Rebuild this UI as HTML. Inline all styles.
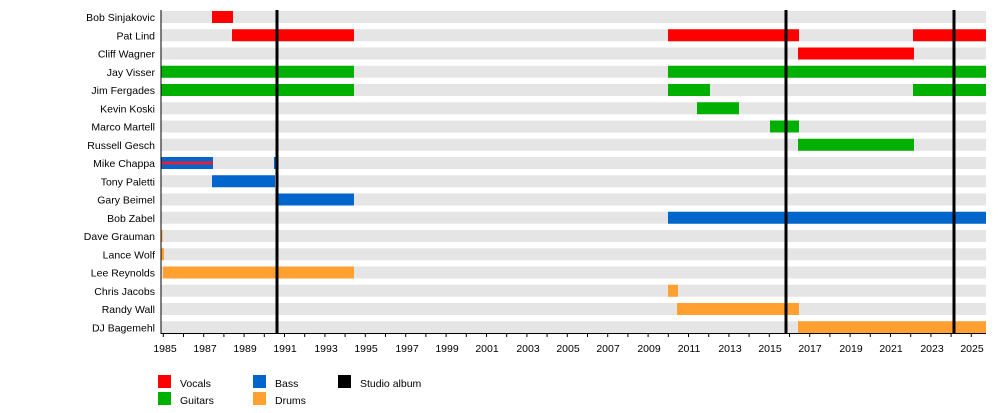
<!DOCTYPE html>
<html><head><meta charset="utf-8"><style>
body{margin:0;background:#fff;}
svg{display:block;font-family:"Liberation Sans",Arial,sans-serif;font-size:10.5px;}
</style></head><body>
<svg width="1000" height="413" viewBox="0 0 1000 413" xmlns="http://www.w3.org/2000/svg">
<g fill="#e5e5e5">
<rect x="161" y="11" width="825" height="12"/>
<rect x="161" y="29.25" width="825" height="12"/>
<rect x="161" y="47.5" width="825" height="12"/>
<rect x="161" y="65.75" width="825" height="12"/>
<rect x="161" y="84" width="825" height="12"/>
<rect x="161" y="102.25" width="825" height="12"/>
<rect x="161" y="120.5" width="825" height="12"/>
<rect x="161" y="138.75" width="825" height="12"/>
<rect x="161" y="157" width="825" height="12"/>
<rect x="161" y="175.25" width="825" height="12"/>
<rect x="161" y="193.5" width="825" height="12"/>
<rect x="161" y="211.75" width="825" height="12"/>
<rect x="161" y="230" width="825" height="12"/>
<rect x="161" y="248.25" width="825" height="12"/>
<rect x="161" y="266.5" width="825" height="12"/>
<rect x="161" y="284.75" width="825" height="12"/>
<rect x="161" y="303" width="825" height="12"/>
<rect x="161" y="321.25" width="825" height="12"/>
</g>
<g text-anchor="end" fill="#000">
<text x="155" y="21">Bob Sinjakovic</text>
<text x="155" y="39.25">Pat Lind</text>
<text x="155" y="57.5">Cliff Wagner</text>
<text x="155" y="75.75">Jay Visser</text>
<text x="155" y="94">Jim Fergades</text>
<text x="155" y="112.25">Kevin Koski</text>
<text x="155" y="130.5">Marco Martell</text>
<text x="155" y="148.75">Russell Gesch</text>
<text x="155" y="167">Mike Chappa</text>
<text x="155" y="185.25">Tony Paletti</text>
<text x="155" y="203.5">Gary Beimel</text>
<text x="155" y="221.75">Bob Zabel</text>
<text x="155" y="240">Dave Grauman</text>
<text x="155" y="258.25">Lance Wolf</text>
<text x="155" y="276.5">Lee Reynolds</text>
<text x="155" y="294.75">Chris Jacobs</text>
<text x="155" y="313">Randy Wall</text>
<text x="155" y="331.25">DJ Bagemehl</text>
</g>
<g fill="#ff0000">
<rect x="212" y="11" width="21" height="12"/>
<rect x="232" y="29.25" width="122" height="12"/>
<rect x="668" y="29.25" width="131" height="12"/>
<rect x="913" y="29.25" width="73" height="12"/>
<rect x="798" y="47.5" width="116" height="12"/>
</g>
<g fill="#00b000">
<rect x="161" y="65.75" width="193" height="12"/>
<rect x="668" y="65.75" width="318" height="12"/>
<rect x="161" y="84" width="193" height="12"/>
<rect x="668" y="84" width="42" height="12"/>
<rect x="913" y="84" width="73" height="12"/>
<rect x="697" y="102.25" width="42" height="12"/>
<rect x="770" y="120.5" width="29" height="12"/>
<rect x="798" y="138.75" width="116" height="12"/>
</g>
<g fill="#0066cc">
<rect x="161" y="157" width="52" height="12"/>
<rect x="274" y="157" width="4" height="12"/>
<rect x="212" y="175.25" width="63" height="12"/>
<rect x="277" y="193.5" width="77" height="12"/>
<rect x="668" y="211.75" width="318" height="12"/>
</g>
<rect x="161" y="161.5" width="52" height="3" fill="#e0203a"/>
<g fill="#ffa030">
<rect x="161" y="230" width="1.5" height="12"/>
<rect x="161" y="248.25" width="3" height="12"/>
<rect x="163" y="266.5" width="191" height="12"/>
<rect x="668" y="284.75" width="10" height="12"/>
<rect x="677" y="303" width="122" height="12"/>
<rect x="798" y="321.25" width="188" height="12"/>
</g>
<g fill="#000">
<rect x="275.5" y="10" width="3" height="323"/>
<rect x="784.5" y="10" width="3" height="323"/>
<rect x="952.5" y="10" width="3" height="323"/>
</g>
<path d="M161 10V333.5H986" stroke="#000" stroke-width="1" fill="none"/>
<path stroke="#000" stroke-width="1" d="M163.3 333v4M183.5 333v4M203.7 333v4M223.9 333v4M244.1 333v4M264.3 333v4M284.5 333v4M304.7 333v4M324.9 333v4M345.1 333v4M365.3 333v4M385.5 333v4M405.7 333v4M425.9 333v4M446.1 333v4M466.3 333v4M486.5 333v4M506.7 333v4M526.9 333v4M547.1 333v4M567.3 333v4M587.5 333v4M607.7 333v4M627.9 333v4M648.1 333v4M668.3 333v4M688.5 333v4M708.7 333v4M728.9 333v4M749.1 333v4M769.3 333v4M789.5 333v4M809.7 333v4M829.9 333v4M850.1 333v4M870.3 333v4M890.5 333v4M910.7 333v4M930.9 333v4M951.1 333v4M971.3 333v4"/>
<g text-anchor="middle" fill="#000">
<text x="165" y="352">1985</text><text x="205" y="352">1987</text><text x="245" y="352">1989</text><text x="285" y="352">1991</text><text x="326" y="352">1993</text><text x="366" y="352">1995</text><text x="407" y="352">1997</text><text x="447" y="352">1999</text><text x="487" y="352">2001</text><text x="528" y="352">2003</text><text x="568" y="352">2005</text><text x="608" y="352">2007</text><text x="649" y="352">2009</text><text x="689" y="352">2011</text><text x="730" y="352">2013</text><text x="770" y="352">2015</text><text x="810" y="352">2017</text><text x="851" y="352">2019</text><text x="891" y="352">2021</text><text x="932" y="352">2023</text><text x="972" y="352">2025</text>
</g>
<rect x="158" y="375" width="13" height="13" fill="#ff0000"/>
<rect x="158" y="392" width="13" height="13" fill="#00b000"/>
<rect x="253" y="375" width="13" height="13" fill="#0066cc"/>
<rect x="253" y="392" width="13" height="13" fill="#ffa030"/>
<rect x="338" y="375" width="13" height="13" fill="#000"/>
<text x="180" y="387">Vocals</text>
<text x="180" y="404">Guitars</text>
<text x="275" y="387">Bass</text>
<text x="275" y="404">Drums</text>
<text x="360" y="387">Studio album</text>
</svg>
</body></html>
